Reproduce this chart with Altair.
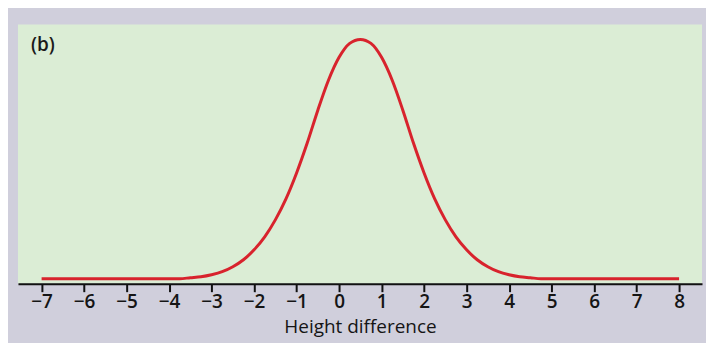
import altair as alt
import pandas as pd

# Values (curve height in arbitrary units)
x_vals = [-7, -3.75, -3.5, -3.25, -3, -2.75, -2.5, -2.25, -2, -1.75, -1.5, -1.25, -1, -0.75,
          -0.5, -0.25, 0, 0.25, 0.5, 0.75, 1, 1.25, 1.5, 1.75, 2, 2.25, 2.5, 2.75, 3,
          3.25, 3.5, 3.75, 4, 4.25, 4.5, 4.75, 8]
y_vals = [0, 0, 1, 2, 4, 7, 12, 19, 29, 42, 59, 80, 106, 136,
          169, 199, 222, 236, 240, 236, 222, 199, 169, 136, 106, 80, 59, 42, 29,
          19, 12, 7, 4, 2, 1, 0, 0]
tick_values = list(range(-7, 9))
panel_label = "(b)"
x_title = "Height difference"

df = pd.DataFrame({"x": x_vals, "y": y_vals})

GREY = "#d0cfdc"
GREEN = "#dbedd5"
RED = "#d8232d"
FONT = "Open Sans"

line = alt.Chart(df).mark_line(color=RED, strokeWidth=3, interpolate="monotone").encode(
    x=alt.X(
        "x:Q",
        scale=alt.Scale(domain=[-7.556, 8.54], nice=False, zero=False),
        axis=alt.Axis(
            values=tick_values,
            title=x_title,
            grid=False,
            domainColor="#111111",
            domainWidth=2,
            tickColor="#111111",
            tickWidth=2,
            tickSize=8,
            labelFont=FONT,
            labelFontSize=19,
            labelFontWeight=600,
            labelColor="#151515",
            labelPadding=1,
            labelFlush=False,
            titleFont=FONT,
            titleFontSize=19,
            titleFontWeight=500,
            titleColor="#151515",
            titlePadding=6,
        ),
    ),
    y=alt.Y("y:Q", scale=alt.Scale(domain=[-5, 255], nice=False, zero=False), axis=None),
)

label = alt.Chart(pd.DataFrame({"t": [panel_label]})).mark_text(
    font=FONT, fontSize=19, fontWeight=600, color="#1a1a1a", align="left", baseline="middle"
).encode(text="t:N", x=alt.value(13), y=alt.value(21))

chart = (
    alt.layer(line, label)
    .properties(
        width=686,
        height=260,
        background=GREY,
        padding={"left": 10, "right": 4, "top": 16, "bottom": 59},
        autosize=alt.AutoSizeParams(type="none"),
    )
    .configure_view(fill=GREEN, stroke=None)
)

chart.save("out.html", embed_options={"renderer": "svg", "actions": False})
